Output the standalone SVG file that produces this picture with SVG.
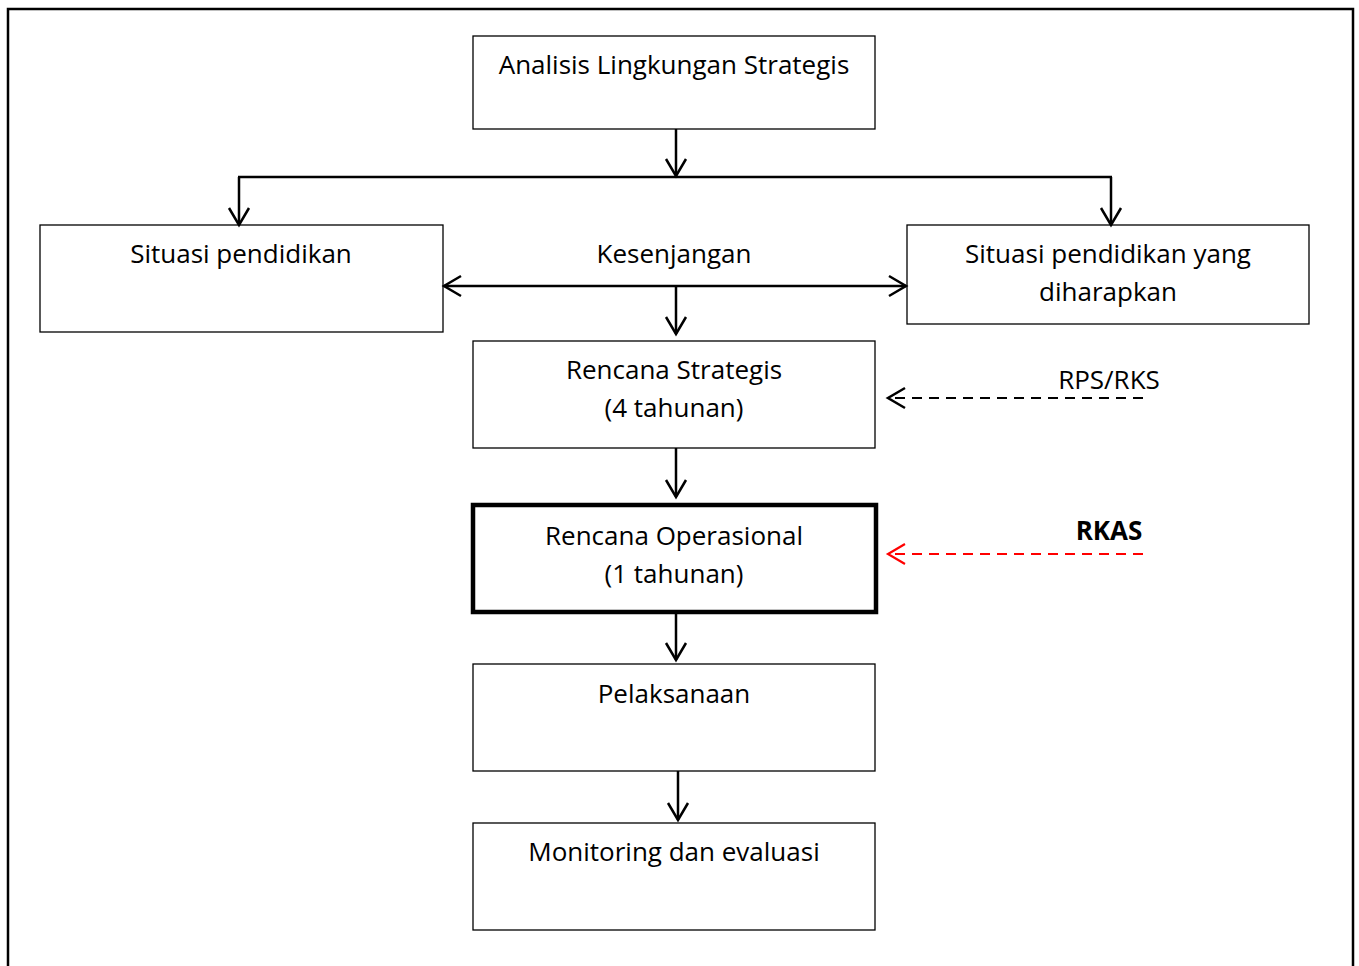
<svg xmlns="http://www.w3.org/2000/svg" width="1359" height="966" viewBox="0 0 1359 966">
<style>
.box{fill:#fff;stroke:#000;stroke-width:1.3}
.bold{fill:#fff;stroke:#000;stroke-width:4.5}
.t{font-family:"Open Sans","Liberation Sans",sans-serif;font-size:26px;fill:#000;text-anchor:middle}
.ln{fill:none;stroke:#000;stroke-width:2.5}
.dash{fill:none;stroke:#000;stroke-width:2.2;stroke-dasharray:10 7}
.rdash{fill:none;stroke:#f00;stroke-width:2.2;stroke-dasharray:10 7}
</style>
<defs>
<marker id="ah" markerUnits="userSpaceOnUse" markerWidth="30" markerHeight="30" refX="20" refY="12" orient="auto">
<path d="M3,2 L20,12 L3,22" fill="none" stroke="#000" stroke-width="2.5"/>
</marker>
<marker id="ahr" markerUnits="userSpaceOnUse" markerWidth="30" markerHeight="30" refX="20" refY="12" orient="auto">
<path d="M3,2 L20,12 L3,22" fill="none" stroke="#f00" stroke-width="2.2"/>
</marker>
</defs>
<rect x="0" y="0" width="1359" height="966" fill="#fff"/>
<rect x="8" y="9" width="1345" height="980" fill="none" stroke="#000" stroke-width="2.5"/>
<g id="n1"><rect class="box" x="473" y="36" width="402" height="93"/><text class="t" x="674" y="74">Analisis Lingkungan Strategis</text></g>
<g id="n2"><rect class="box" x="40" y="225" width="403" height="107"/><text class="t" x="241" y="263">Situasi pendidikan</text></g>
<g id="n3"><rect class="box" x="907" y="225" width="402" height="99"/><text class="t" x="1108" y="263">Situasi pendidikan yang</text><text class="t" x="1108" y="301">diharapkan</text></g>
<g id="n4"><rect class="box" x="473" y="341" width="402" height="107"/><text class="t" x="674" y="379">Rencana Strategis</text><text class="t" x="674" y="417">(4 tahunan)</text></g>
<g id="n5"><rect class="bold" x="473" y="505" width="403" height="107"/><text class="t" x="674" y="545">Rencana Operasional</text><text class="t" x="674" y="583">(1 tahunan)</text></g>
<g id="n6"><rect class="box" x="473" y="664" width="402" height="107"/><text class="t" x="674" y="703">Pelaksanaan</text></g>
<g id="n7"><rect class="box" x="473" y="823" width="402" height="107"/><text class="t" x="674" y="861">Monitoring dan evaluasi</text></g>
<g id="connectors">
<line class="ln" x1="676" y1="129" x2="676" y2="176" marker-end="url(#ah)"/>
<line class="ln" x1="238" y1="177" x2="1112" y2="177"/>
<line class="ln" x1="239" y1="177" x2="239" y2="225" marker-end="url(#ah)"/>
<line class="ln" x1="1111" y1="177" x2="1111" y2="225" marker-end="url(#ah)"/>
<line class="ln" x1="676" y1="286" x2="444" y2="286" marker-end="url(#ah)"/>
<line class="ln" x1="676" y1="286" x2="906" y2="286" marker-end="url(#ah)"/>
<line class="ln" x1="676" y1="286" x2="676" y2="334" marker-end="url(#ah)"/>
<text class="t" x="674" y="263">Kesenjangan</text>
<line class="ln" x1="676" y1="448" x2="676" y2="497" marker-end="url(#ah)"/>
<line class="ln" x1="676" y1="612" x2="676" y2="660" marker-end="url(#ah)"/>
<line class="ln" x1="678" y1="771" x2="678" y2="820" marker-end="url(#ah)"/>
<line class="dash" x1="1143" y1="398" x2="888" y2="398" marker-end="url(#ah)"/>
<text class="t" x="1109" y="389">RPS/RKS</text>
<line class="rdash" x1="1143" y1="554" x2="888" y2="554" marker-end="url(#ahr)"/>
<text class="t" x="1109" y="540" style="font-weight:bold">RKAS</text>
</g>
</svg>
